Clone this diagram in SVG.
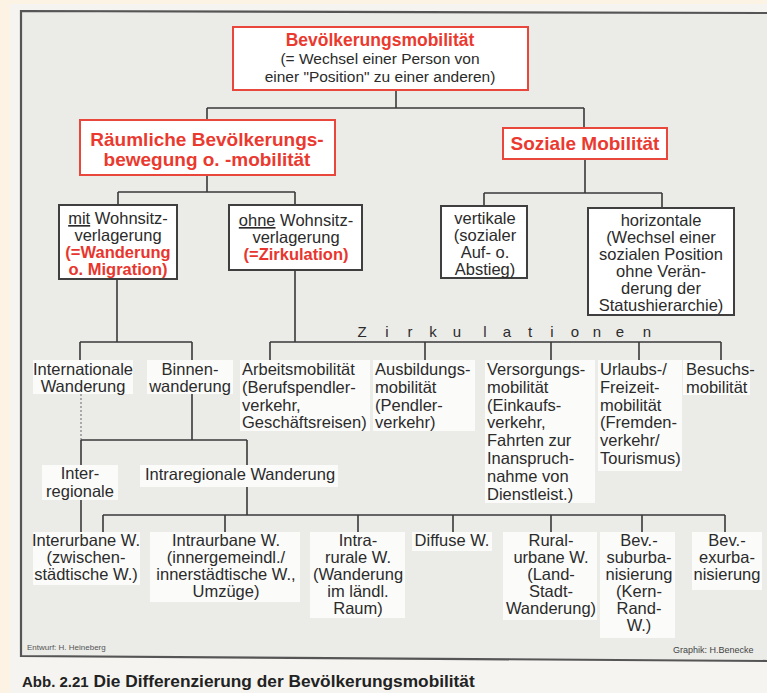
<svg xmlns="http://www.w3.org/2000/svg" width="767" height="693" viewBox="0 0 767 693">
<style>
.t{font-family:"Liberation Sans",Arial,sans-serif;font-size:16.5px;fill:#2b2b2b}
.c{text-anchor:middle}
.red{fill:#e8362e;font-weight:bold}
.h{font-size:19px;font-weight:bold;fill:#ea3a30}
.lbl{fill:#fbfbfa}
.rb{fill:#ffffff;stroke:#e9463c;stroke-width:2}
.bb{fill:#ffffff;stroke:#3f3f3f;stroke-width:2}
.ln{stroke:#3a3a3a;stroke-width:1.6;fill:none}
.dot{stroke:#9a9a9a;stroke-width:1.6;stroke-dasharray:2 2;fill:none}
.u{text-decoration:underline}
</style>
<rect x="0" y="0" width="767" height="693" fill="#fdf3e4"/>
<rect x="10" y="4" width="757" height="689" fill="#f5f4f0"/>
<path d="M767,13 L21,11 L21,656 L767,661 Z" fill="#ebebe8"/>
<path d="M767,13 L21,11 L21,656 L767,661" fill="none" stroke="#555" stroke-width="2.2"/>

<g id="connectors">
<path class="ln" d="M396,90 V108 M207,108 H584 M207,108 V120 M584,108 V128"/>
<path class="ln" d="M207,175 V192 M118,192 H295 M118,192 V205 M295,192 V205"/>
<path class="ln" d="M585,159 V193 M484,193 H662 M484,193 V206 M662,193 V208"/>
<path class="ln" d="M117,279 V342 M80,342 H192 M80,342 V360 M192,342 V360"/>
<path class="ln" d="M295,270 V342 M270,342 H721 M270,342 V360 M425,342 V360 M551,342 V360 M639,342 V360 M721,342 V360"/>
<path class="dot" d="M81,394 V440"/>
<path class="ln" d="M192,393 V440 M81,440 H247 M81,440 V465 M247,440 V465"/>
<path class="ln" d="M247,487 V515 M103,515 H725 M103,515 V532 M225,515 V532 M358,515 V532 M453,515 V532 M551,515 V532 M642,515 V532 M725,515 V532"/>
<path class="ln" d="M81,500 V532"/>
</g>

<g id="n-top">
<rect class="rb" x="233" y="27" width="295" height="63"/>
<text class="t c" style="font-size:17.5px;font-weight:bold;fill:#ea3a30" x="380" y="46">Bevölkerungsmobilität</text>
<text class="t c" style="font-size:15.5px" x="380" y="64">(= Wechsel einer Person von</text>
<text class="t c" style="font-size:15.5px" x="380" y="82">einer "Position" zu einer anderen)</text>
</g>

<g id="n-raeumlich">
<rect class="rb" x="80" y="120" width="255" height="55"/>
<text class="t h c" x="207" y="146">Räumliche Bevölkerungs-</text>
<text class="t h c" x="207" y="166">bewegung o. -mobilität</text>
</g>

<g id="n-sozial">
<rect class="rb" x="503" y="128" width="164" height="31"/>
<text class="t h c" x="585" y="150">Soziale Mobilität</text>
</g>

<g id="n-mit">
<rect class="bb" x="59" y="205" width="118" height="74"/>
<text class="t c" x="118" y="224"><tspan class="u">mit</tspan> Wohnsitz-</text>
<text class="t c" x="118" y="241">verlagerung</text>
<text class="t c red" x="118" y="258">(=Wanderung</text>
<text class="t c red" x="118" y="275">o. Migration)</text>
</g>

<g id="n-ohne">
<rect class="bb" x="229" y="205" width="133" height="65"/>
<text class="t c" x="296" y="226"><tspan class="u">ohne</tspan> Wohnsitz-</text>
<text class="t c" x="296" y="243">verlagerung</text>
<text class="t c red" x="296" y="260">(=Zirkulation)</text>
</g>

<g id="n-vertikal">
<rect class="bb" x="441" y="206" width="86" height="72"/>
<text class="t c" x="485" y="224">vertikale</text>
<text class="t c" x="485" y="241">(sozialer</text>
<text class="t c" x="485" y="258">Auf- o.</text>
<text class="t c" x="485" y="275">Abstieg)</text>
</g>

<g id="n-horizontal">
<rect class="bb" x="588" y="208" width="146" height="107"/>
<text class="t c" x="661" y="226">horizontale</text>
<text class="t c" x="661" y="243">(Wechsel einer</text>
<text class="t c" x="661" y="260">sozialen Position</text>
<text class="t c" x="661" y="277">ohne Verän-</text>
<text class="t c" x="661" y="294">derung der</text>
<text class="t c" x="661" y="311">Statushierarchie)</text>
</g>

<g id="zirkulationen">
<text class="t c" style="font-size:15px" x="362 387 410 433 457 485 507 530 552 575 597 620 647" y="337">Zirkulationen</text>
</g>

<g id="n-international">
<rect class="lbl" x="33" y="360" width="100" height="34"/>
<text class="t c" x="83" y="375">Internationale</text>
<text class="t c" x="83" y="392">Wanderung</text>
</g>

<g id="n-binnen">
<rect class="lbl" x="147" y="360" width="86" height="34"/>
<text class="t c" x="190" y="375">Binnen-</text>
<text class="t c" x="190" y="392">wanderung</text>
</g>

<g id="n-arbeit">
<rect class="lbl" x="240" y="360" width="130" height="71"/>
<text class="t" x="242" y="375">Arbeitsmobilität</text>
<text class="t" x="242" y="392.8">(Berufspendler-</text>
<text class="t" x="242" y="410.6">verkehr,</text>
<text class="t" x="242" y="428.4">Geschäftsreisen)</text>
</g>

<g id="n-ausbildung">
<rect class="lbl" x="373" y="360" width="102" height="71"/>
<text class="t" x="375" y="375">Ausbildungs-</text>
<text class="t" x="375" y="392.8">mobilität</text>
<text class="t" x="375" y="410.6">(Pendler-</text>
<text class="t" x="375" y="428.4">verkehr)</text>
</g>

<g id="n-versorgung">
<rect class="lbl" x="485" y="360" width="110" height="143"/>
<text class="t" x="487" y="375">Versorgungs-</text>
<text class="t" x="487" y="392.8">mobilität</text>
<text class="t" x="487" y="410.6">(Einkaufs-</text>
<text class="t" x="487" y="428.4">verkehr,</text>
<text class="t" x="487" y="446.2">Fahrten zur</text>
<text class="t" x="487" y="464">Inanspruch-</text>
<text class="t" x="487" y="481.8">nahme von</text>
<text class="t" x="487" y="499.6">Dienstleist.)</text>
</g>

<g id="n-urlaub">
<rect class="lbl" x="598" y="360" width="84" height="111"/>
<text class="t" x="600" y="375">Urlaubs-/</text>
<text class="t" x="600" y="392.8">Freizeit-</text>
<text class="t" x="600" y="410.6">mobilität</text>
<text class="t" x="600" y="428.4">(Fremden-</text>
<text class="t" x="600" y="446.2">verkehr/</text>
<text class="t" x="600" y="464">Tourismus)</text>
</g>

<g id="n-besuch">
<rect class="lbl" x="683" y="360" width="67" height="35"/>
<text class="t" x="686" y="375">Besuchs-</text>
<text class="t" x="686" y="392.8">mobilität</text>
</g>

<g id="n-interregional">
<rect class="lbl" x="42" y="465" width="76" height="35"/>
<text class="t c" x="80" y="479">Inter-</text>
<text class="t c" x="80" y="497">regionale</text>
</g>

<g id="n-intraregional">
<rect class="lbl" x="140" y="465" width="198" height="22"/>
<text class="t c" x="240" y="480">Intraregionale Wanderung</text>
</g>

<g id="n-interurban">
<rect class="lbl" x="33" y="532" width="107" height="53"/>
<text class="t c" x="86" y="546">Interurbane W.</text>
<text class="t c" x="86" y="563">(zwischen-</text>
<text class="t c" x="86" y="580">städtische W.)</text>
</g>

<g id="n-intraurban">
<rect class="lbl" x="150" y="532" width="150" height="70"/>
<text class="t c" x="226" y="546">Intraurbane W.</text>
<text class="t c" x="226" y="563">(innergemeindl./</text>
<text class="t c" x="226" y="580">innerstädtische W.,</text>
<text class="t c" x="226" y="597">Umzüge)</text>
</g>

<g id="n-intrarural">
<rect class="lbl" x="310" y="532" width="95" height="86"/>
<text class="t c" x="358" y="546">Intra-</text>
<text class="t c" x="358" y="563">rurale W.</text>
<text class="t c" x="358" y="580">(Wanderung</text>
<text class="t c" x="358" y="597">im ländl.</text>
<text class="t c" x="358" y="614">Raum)</text>
</g>

<g id="n-diffus">
<rect class="lbl" x="412" y="532" width="80" height="19"/>
<text class="t c" x="452" y="546">Diffuse W.</text>
</g>

<g id="n-ruralurban">
<rect class="lbl" x="503" y="532" width="94" height="88"/>
<text class="t c" x="551" y="546">Rural-</text>
<text class="t c" x="551" y="563">urbane W.</text>
<text class="t c" x="551" y="580">(Land-</text>
<text class="t c" x="551" y="597">Stadt-</text>
<text class="t c" x="551" y="614">Wanderung)</text>
</g>

<g id="n-suburb">
<rect class="lbl" x="600" y="532" width="75" height="106"/>
<text class="t c" x="639" y="546">Bev.-</text>
<text class="t c" x="639" y="563">suburba-</text>
<text class="t c" x="639" y="580">nisierung</text>
<text class="t c" x="639" y="597">(Kern-</text>
<text class="t c" x="639" y="614">Rand-</text>
<text class="t c" x="639" y="631">W.)</text>
</g>

<g id="n-exurb">
<rect class="lbl" x="692" y="532" width="70" height="58"/>
<text class="t c" x="727" y="546">Bev.-</text>
<text class="t c" x="727" y="563">exurba-</text>
<text class="t c" x="727" y="580">nisierung</text>
</g>

<text class="t" style="font-size:8px;fill:#555" x="27" y="650">Entwurf: H. Heineberg</text>
<text class="t" style="font-size:9px;fill:#444" x="673" y="653">Graphik: H.Benecke</text>
<text class="t" style="font-weight:bold;font-size:17.3px;fill:#222" x="22" y="687"><tspan style="font-size:15px">Abb. 2.21</tspan>  Die Differenzierung der Bevölkerungsmobilität</text>
</svg>
